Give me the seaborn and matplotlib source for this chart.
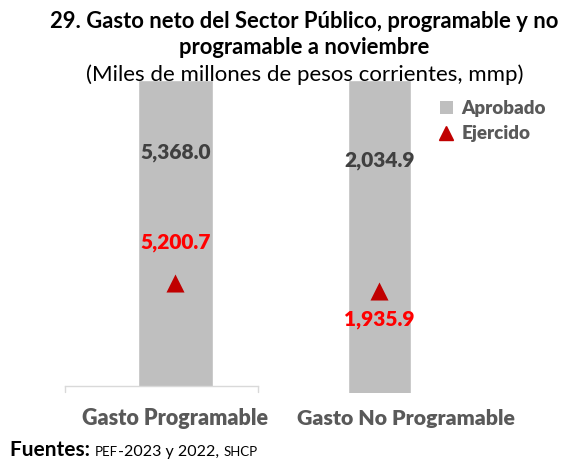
import matplotlib
matplotlib.use("Agg")
import matplotlib.pyplot as plt
import seaborn as sns
from matplotlib.lines import Line2D
from matplotlib.patches import Rectangle

# Data (miles de millones de pesos)
categorias = ["Gasto Programable", "Gasto No Programable"]
aprobado = [5368.0, 2034.9]
ejercido = [5200.7, 1935.9]

sns.set_theme(style="white")
plt.rcParams["font.family"] = ["Lato", "DejaVu Sans"]

GRIS = "#BFBFBF"
ROJO = "#C00000"
TXT = "#595959"

fig = plt.figure(figsize=(5.66, 4.61), dpi=100)
W, H = 566, 461


def px_axes(left, top, right, bottom):
    return fig.add_axes([left / W, 1 - bottom / H, (right - left) / W, (bottom - top) / H])


# each category is its own small chart with its own scale
specs = [
    dict(box=(65, 75, 258, 386), xlim=(-0.5725, 0.4275), ylim=(5115.8, 5372.1), width=0.39,
         ap_y=152, ej_off=(0, 22), ej_va="bottom"),
    dict(box=(290, 75, 470, 393), xlim=(-0.497, 0.503), ylim=(1888.0, 2037.2), width=0.35,
         ap_y=160, ej_off=(0, -14), ej_va="top"),
]

for i, sp in enumerate(specs):
    ax = px_axes(*sp["box"])
    sns.barplot(x=[categorias[i]], y=[aprobado[i]], color=GRIS, width=sp["width"],
                saturation=1, ax=ax)
    sns.stripplot(x=[categorias[i]], y=[ejercido[i]], marker="^", size=13, color=ROJO,
                  jitter=False, ax=ax)
    ax.set_xlim(*sp["xlim"])
    ax.set_ylim(*sp["ylim"])
    ax.set_yticks([])
    ax.set_xticks([])
    ax.set_xlabel("")
    ax.set_ylabel("")
    for s in ax.spines.values():
        s.set_visible(False)
    if i == 0:
        ax.spines["bottom"].set_visible(True)
        ax.spines["bottom"].set_color("#D9D9D9")
        ax.spines["bottom"].set_linewidth(1)
        ax.plot([0, 0], [0, -0.02], transform=ax.transAxes, color="#D9D9D9", lw=1, clip_on=False)
        ax.plot([1, 1], [0, -0.02], transform=ax.transAxes, color="#D9D9D9", lw=1, clip_on=False)

    # value labels
    yl = ax.get_ylim()
    ax.text(0, yl[1] - (yl[1] - yl[0]) * (sp["ap_y"] - sp["box"][1]) / (sp["box"][3] - sp["box"][1]),
            f"{aprobado[i]:,.1f}", ha="center", va="center", fontsize=15,
            fontweight="heavy", color="#404040")
    ax.annotate(f"{ejercido[i]:,.1f}", (0, ejercido[i]), xytext=sp["ej_off"],
                textcoords="offset points", ha="center", va=sp["ej_va"], fontsize=15,
                fontweight="heavy", color="#FF0000")

# category labels
fig.text(175.5 / W, 1 - 418 / H, categorias[0], ha="center", va="center", fontsize=15.5,
         fontweight="heavy", color=TXT)
fig.text(406 / W, 1 - 418 / H, categorias[1], ha="center", va="center", fontsize=15.3,
         fontweight="heavy", color=TXT)

# titles
fig.text(0.538, 1 - 22 / H, "29. Gasto neto del Sector Público, programable y no",
         ha="center", va="center", fontsize=15.8, fontweight="bold", color="black")
fig.text(0.538, 1 - 47 / H, "programable a noviembre",
         ha="center", va="center", fontsize=15.8, fontweight="bold", color="black")
fig.text(0.538, 1 - 75 / H, "(Miles de millones de pesos corrientes, mmp)",
         ha="center", va="center", fontsize=16, color="black")

# legend
handles = [
    Rectangle((0, 0), 1, 1, facecolor=GRIS, edgecolor="none"),
    Line2D([], [], marker="^", color=ROJO, linestyle="none", markersize=10),
]
leg = fig.legend(handles, ["Aprobado", "Ejercido"], loc="upper left",
                 bbox_to_anchor=(423 / W, 1 - 83 / H), frameon=False,
                 handlelength=0.7, handleheight=0.7, handletextpad=0.45, labelspacing=0.45,
                 prop={"weight": "heavy", "size": 13.5})
for t in leg.get_texts():
    t.set_color(TXT)

# source line, small caps for the acronyms
pieces = [("Fuentes: ", 15, "bold"), ("PEF", 9.5, "normal"), ("-2023 y 2022, ", 11.5, "normal"),
          ("SHCP", 9.5, "normal")]
renderer = fig.canvas.get_renderer()
x = 10
for txt, size, weight in pieces:
    t = fig.text(x / W, 1 - 456 / H, txt, ha="left", va="baseline", fontsize=size,
                 fontweight=weight, color="black")
    x += t.get_window_extent(renderer).width

fig.savefig("out.png", dpi=100)
